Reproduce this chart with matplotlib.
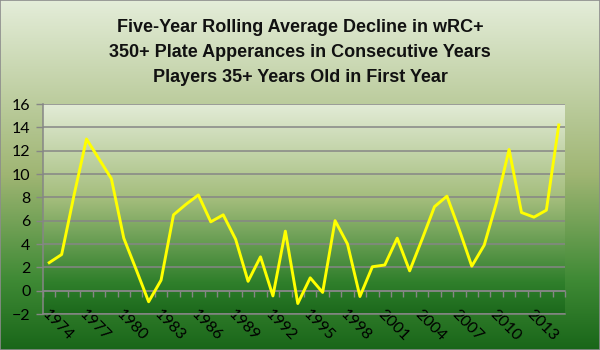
import numpy as np
import matplotlib
matplotlib.use("Agg")
import matplotlib.pyplot as plt
from matplotlib.colors import LinearSegmentedColormap

# data
years = list(range(1974, 2016))
decline = [2.4, 3.1, 8.2, 13.0, 11.3, 9.6, 4.5, 1.8, -0.95, 0.9,
           6.5, 7.4, 8.2, 5.9, 6.5, 4.4, 0.8, 2.9, -0.45, 5.1,
           -1.1, 1.1, -0.15, 6.0, 4.0, -0.5, 2.05, 2.2, 4.5, 1.7,
           4.4, 7.2, 8.1, 5.2, 2.1, 3.9, 7.6, 12.1, 6.7, 6.3,
           6.9, 14.2]
title_lines = ["Five-Year Rolling Average Decline in wRC+",
               "350+ Plate Apperances in Consecutive Years",
               "Players 35+ Years Old in First Year"]
yticks = list(range(-2, 17, 2))

tick_font = ["Lato", "DejaVu Sans"]
title_font = ["Liberation Sans Narrow", "Liberation Sans", "DejaVu Sans"]
grid_col = "#868686"

fig = plt.figure(figsize=(6, 3.5), dpi=100)

# figure background gradient
bg = fig.add_axes([0, 0, 1, 1])
fig_cmap = LinearSegmentedColormap.from_list(
    "figbg", [(0, "#e4edd9"), (0.5, "#9fb573"), (0.8, "#3f8a35"), (1, "#196619")])
bg.imshow(np.linspace(0, 1, 256).reshape(-1, 1), cmap=fig_cmap, aspect="auto",
          extent=[0, 1, 0, 1], origin="upper")
bg.set_xticks([])
bg.set_yticks([])
for s in bg.spines.values():
    s.set_color("#8c8c8c")
    s.set_linewidth(1.2)

ax = fig.add_axes([43 / 600, 1 - 314 / 350, 522 / 600, 210 / 350])
ax.patch.set_visible(False)
x = np.arange(len(years))
ax.set_xlim(-0.5, len(years) - 0.5)
ax.set_ylim(-2, 16)

plot_cmap = LinearSegmentedColormap.from_list(
    "plotbg", [(0, "#e2ebd6"), (0.45, "#a4bd7c"), (0.85, "#2f7f2b"), (1, "#1c691c")])
ax.imshow(np.linspace(0, 1, 256).reshape(-1, 1), cmap=plot_cmap, aspect="auto",
          extent=[0, 1, 0, 1], transform=ax.transAxes, origin="upper", zorder=0)

ax.set_yticks(yticks)
ax.yaxis.grid(True, color=grid_col, linewidth=1.1, zorder=1)
ax.set_axisbelow(True)

ax.plot(x, decline, color="#ffff00", linewidth=2.1, zorder=3)

for s in ["top", "right"]:
    ax.spines[s].set_visible(False)
ax.spines["left"].set_color(grid_col)
ax.spines["bottom"].set_color(grid_col)
ax.spines["left"].set_linewidth(1.1)
ax.spines["bottom"].set_linewidth(1.1)

ax.tick_params(axis="y", colors=grid_col, length=5, width=1, pad=4,
               labelcolor="black", labelsize=11.5)
for lab in ax.get_yticklabels():
    lab.set_fontfamily(tick_font)

ax.set_xticks(x[::3])
ax.set_xticklabels([str(y) for y in years[::3]], rotation=-45, ha="left",
                   va="top", rotation_mode="anchor", fontsize=11.5, family=tick_font)
ax.tick_params(axis="x", length=0, pad=-5)

# category axis at y=0 with tick marks between categories
sec = ax.secondary_xaxis(0, transform=ax.transData)
sec.set_xticks(np.arange(len(years) + 1) - 0.5)
sec.set_xticklabels([])
sec.tick_params(axis="x", direction="out", length=4, width=1, colors=grid_col)
sec.spines["bottom"].set_color(grid_col)
sec.spines["bottom"].set_linewidth(1.1)

for i, line in enumerate(title_lines):
    fig.text(0.5, 1 - (32 + 25 * i) / 350, line, ha="center", va="baseline",
             fontsize=13, fontweight="bold", family=title_font, color="#111111")

fig.savefig("out.png", dpi=100)
